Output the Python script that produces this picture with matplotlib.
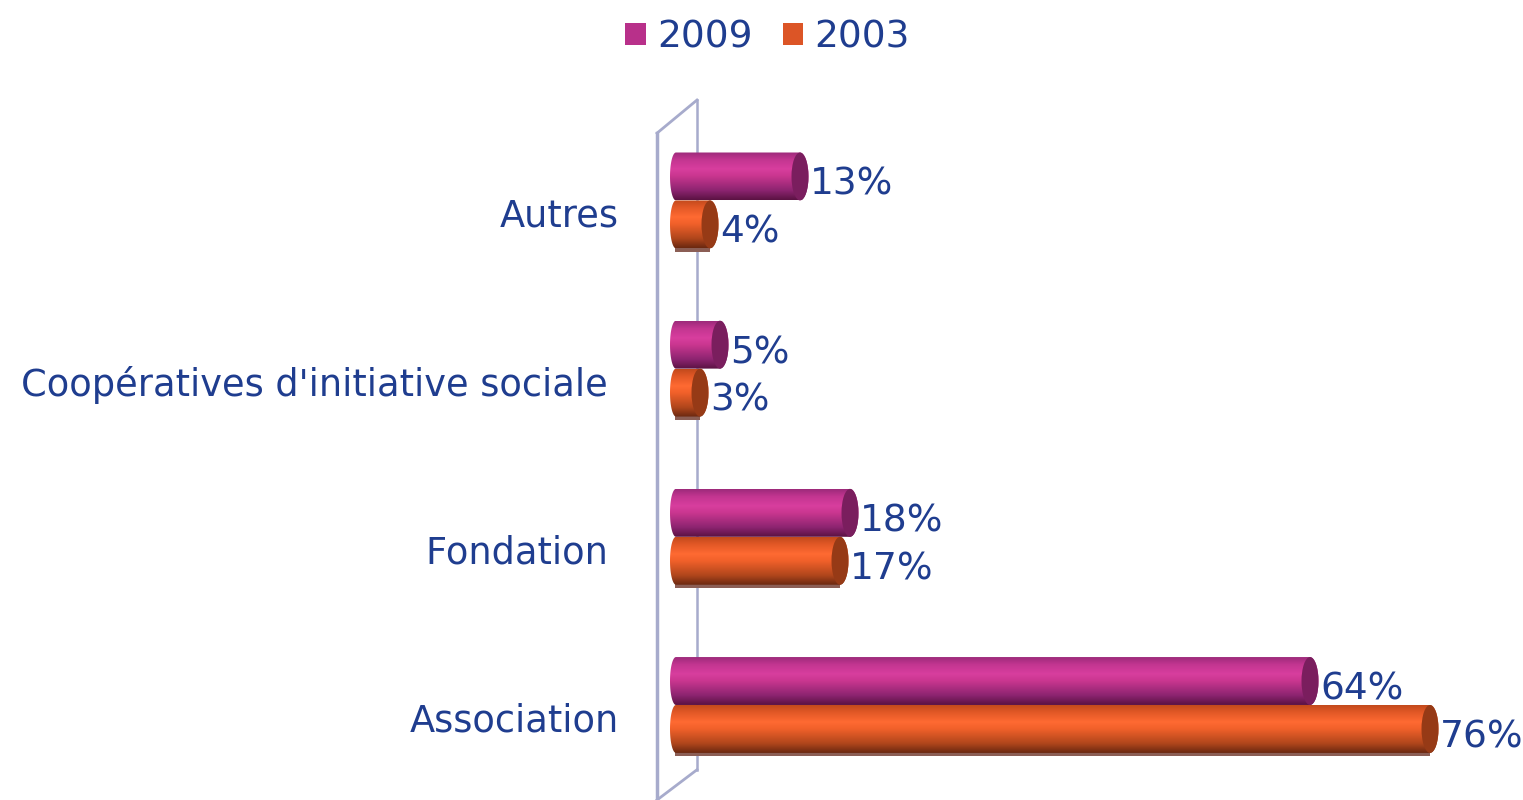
import numpy as np
import matplotlib
matplotlib.use('Agg')
import matplotlib.pyplot as plt
from matplotlib.colors import LinearSegmentedColormap
from matplotlib.patches import Ellipse, Patch, PathPatch, Rectangle
from matplotlib.path import Path

# --- data (bottom to top) ---
categories = ["Association", "Fondation ", "Coopératives d'initiative sociale ", "Autres"]
series_names = ["2009", "2003"]
values_2009 = [64, 18, 5, 13]
values_2003 = [76, 17, 3, 4]

text_col = '#1f3d8f'
wall_col = '#a7abcc'
fs_cat = 26.5
fs_val = 27
fs_leg = 27

cmap_2009 = LinearSegmentedColormap.from_list('m', [
    (0.0, '#5a1242'), (0.2, '#8c2470'), (0.5, '#c9368f'),
    (0.65, '#d83e9e'), (0.85, '#c23590'), (1.0, '#9c2a7a')])
cmap_2003 = LinearSegmentedColormap.from_list('o', [
    (0.0, '#6a2810'), (0.2, '#b0461c'), (0.5, '#f0602a'),
    (0.65, '#ff6a32'), (0.85, '#e25826'), (1.0, '#c24a1c')])
cap_2009 = '#7a1e5e'
cap_2003 = '#963a16'
legend_2009 = '#b8308a'
legend_2003 = '#dc5526'

fig = plt.figure(figsize=(15.23, 8), dpi=100)
ax = fig.add_axes([640 / 1523, 0, 883 / 1523, 740 / 800])
ax.set_xlim(-3.0, 85.3)
ax.set_ylim(-0.565, 3.835)
ax.axis('off')

bar_h = 0.285
rx = 0.85
grad = np.linspace(0, 1, 256).reshape(-1, 1)


def cylinder(val, y0, cmap, cap, shadow=False):
    y1 = y0 + bar_h
    yc = (y0 + y1) / 2
    ry = bar_h / 2
    t = np.linspace(np.pi / 2, 3 * np.pi / 2, 40)
    left = np.column_stack([rx * 0.7 + 0.7 * rx * np.cos(t), yc + ry * np.sin(t)])
    t2 = np.linspace(-np.pi / 2, np.pi / 2, 40)
    right = np.column_stack([val + rx * np.cos(t2), yc + ry * np.sin(t2)])
    verts = np.vstack([left, right, left[:1]])
    clip = PathPatch(Path(verts), facecolor='none', edgecolor='none')
    ax.add_patch(clip)
    if shadow:
        ax.add_patch(Rectangle((rx * 0.6, y0 - 0.02), val - rx * 0.6, 0.04,
                               facecolor='#8b5e55', edgecolor='none', zorder=2))
    im = ax.imshow(grad, extent=[0, val + rx, y0, y1], origin='lower',
                   cmap=cmap, aspect='auto', zorder=3, interpolation='bilinear')
    im.set_clip_path(clip)
    ax.add_patch(Ellipse((val, yc), 2 * rx, bar_h, facecolor=cap,
                         edgecolor='none', zorder=4))
    ax.text(val + 1.0, yc - 0.05, f"{val}%", fontsize=fs_val, color=text_col,
            ha='left', va='center', zorder=5)


# wall
wall_x = -1.3
wall_dx = 4.0
wall_rise = 0.197
y_bot, y_top = -0.565, 3.40
ax.plot([wall_x, wall_x], [y_bot, y_top], color=wall_col, lw=2.5, zorder=1, clip_on=False)
ax.plot([wall_x + wall_dx, wall_x + wall_dx], [y_bot + 0.18, y_top + wall_rise],
        color=wall_col, lw=1.8, zorder=1, clip_on=False)
ax.plot([wall_x, wall_x + wall_dx], [y_top, y_top + wall_rise],
        color=wall_col, lw=2.0, zorder=1, clip_on=False)
ax.plot([wall_x, wall_x + wall_dx], [y_bot, y_bot + 0.18],
        color=wall_col, lw=2.0, zorder=1, clip_on=False)

for i, cat in enumerate(categories):
    cylinder(values_2009[i], i, cmap_2009, cap_2009)
    cylinder(values_2003[i], i - bar_h, cmap_2003, cap_2003, shadow=True)
    ax.text(-5.1, i - 0.095, cat, fontsize=fs_cat, color=text_col,
            ha='right', va='center', clip_on=False)

ax.set_xlim(-3.0, 85.3)
ax.set_ylim(-0.565, 3.835)

handles = [Patch(facecolor=legend_2009, edgecolor='none'),
           Patch(facecolor=legend_2003, edgecolor='none')]
leg = fig.legend(handles, series_names, loc='upper center', bbox_to_anchor=(0.504, 1.004),
                 ncol=2, frameon=False, fontsize=fs_leg, handlelength=0.55, handleheight=0.55,
                 handletextpad=0.3, columnspacing=0.8, borderpad=0.1)
for t in leg.get_texts():
    t.set_color(text_col)

fig.savefig('out.png', dpi=100)
